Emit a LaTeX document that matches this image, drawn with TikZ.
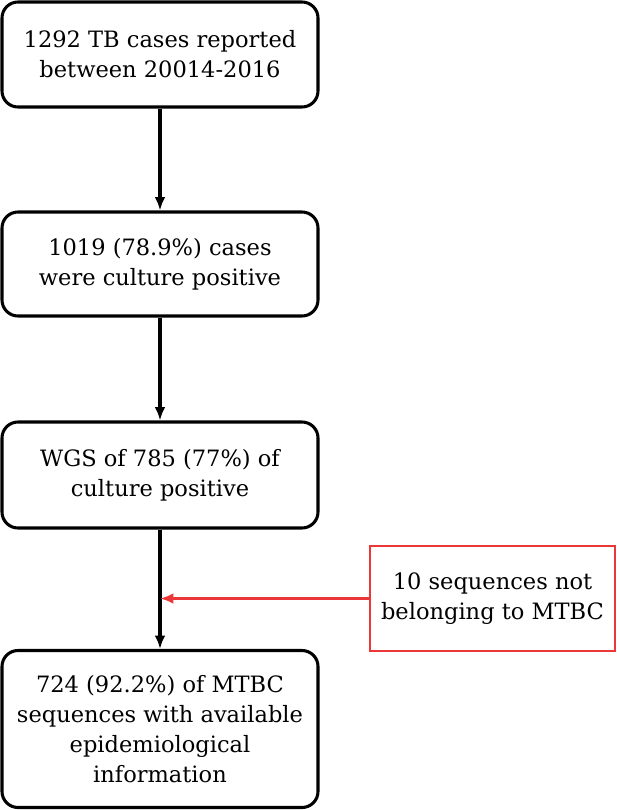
\documentclass[tikz,border=0pt]{standalone}
\usepackage{fontspec}
\setmainfont{DejaVu Serif}
\usetikzlibrary{arrows.meta}
\begin{document}
\begin{tikzpicture}[x=0.75pt,y=-0.75pt,
  box/.style={draw=black,line width=2.3pt,rounded corners=12pt,fill=white,align=center,
    font=\fontsize{16.9}{22.5}\selectfont,inner sep=0pt},
  redbox/.style={draw={rgb,255:red,235;green,55;blue,55},line width=2pt,fill=white,align=center,
    font=\fontsize{16.9}{22.5}\selectfont,inner sep=0pt},
  flow/.style={line width=2.3pt,-{Latex[length=10pt,width=8pt]}},
  redflow/.style={draw={rgb,255:red,235;green,55;blue,55},line width=2.2pt,-{Latex[length=10pt,width=8pt]}}]
\useasboundingbox (0,0) rectangle (617,810);
\node[box,minimum width=316*0.75pt,minimum height=105*0.75pt] (a) at (160,54.5) {1292 TB cases reported\\between 20014-2016};
\node[box,minimum width=316*0.75pt,minimum height=104*0.75pt] (b) at (160,264) {1019 (78.9\%) cases\\were culture positive};
\node[box,minimum width=316*0.75pt,minimum height=106*0.75pt] (c) at (160,475) {WGS of 785 (77\%) of\\culture positive};
\node[box,minimum width=316*0.75pt,minimum height=157*0.75pt] (d) at (160,729) {724 (92.2\%) of MTBC\\sequences with available\\epidemiological\\information};
\node[redbox,minimum width=245*0.75pt,minimum height=105*0.75pt] (r) at (492.5,598.5) {10 sequences not\\belonging to MTBC};
\draw[flow] (a) -- (b);
\draw[flow] (b) -- (c);
\draw[flow] (c) -- (d);
\coordinate (m) at (c.south |- r.west);
\draw[redflow] (r.west) -- (m);
\end{tikzpicture}
\end{document}
